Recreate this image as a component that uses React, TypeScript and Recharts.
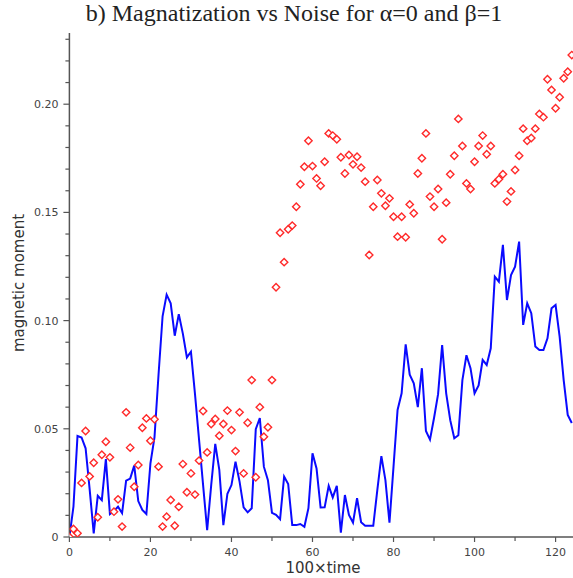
import React from "react";
import { ComposedChart, Line, Scatter, XAxis, YAxis } from "recharts";

const TITLE = "b) Magnatization vs Noise for α=0 and β=1";
const X_LABEL = "100×time";
const Y_LABEL = "magnetic moment";

const X_TICKS = [0, 10, 20, 30, 40, 50, 60, 70, 80, 90, 100, 110, 120];
const X_MAJOR = [0, 20, 40, 60, 80, 100, 120];
const Y_TICKS = [0, 0.01, 0.02, 0.03, 0.04, 0.05, 0.06, 0.07, 0.08, 0.09, 0.1, 0.11, 0.12, 0.13, 0.14, 0.15, 0.16, 0.17, 0.18, 0.19, 0.2, 0.21, 0.22, 0.23];
const Y_MAJOR_LABELS: Record<string, string> = { "0": "0", "0.05": "0.05", "0.1": "0.10", "0.15": "0.15", "0.2": "0.20" };

// blue line: value at each time step 0..124
const blueValues = [
  0, 0.014, 0.0467, 0.046, 0.041, 0.022, 0.0017, 0.019, 0.017, 0.036,
  0.0106, 0.012, 0.014, 0.011, 0.026, 0.027, 0.033, 0.0166, 0.0125, 0.0106,
  0.034, 0.046, 0.075, 0.102, 0.112, 0.108, 0.093, 0.103, 0.094, 0.083,
  0.0856, 0.066, 0.045, 0.024, 0.0032, 0.024, 0.043, 0.031, 0.0055, 0.02,
  0.024, 0.0348, 0.0256, 0.0137, 0.0114, 0.0133, 0.0498, 0.055, 0.0325, 0.0263,
  0.0112, 0.0102, 0.0082, 0.0279, 0.0245, 0.0055, 0.0055, 0.006, 0.0047, 0.0133,
  0.0387, 0.0317, 0.0136, 0.0137, 0.0236, 0.0183, 0.0236, 0.002, 0.0194, 0.0102,
  0.0066, 0.0179, 0.0068, 0.0052, 0.0052, 0.0052, 0.0217, 0.0374, 0.0263, 0.0066,
  0.0325, 0.0587, 0.0664, 0.089, 0.075, 0.071, 0.06, 0.078, 0.049, 0.045,
  0.055, 0.066, 0.0887, 0.0664, 0.054, 0.0456, 0.047, 0.0725, 0.084, 0.078,
  0.0664, 0.07, 0.0818, 0.0795, 0.0872, 0.1203, 0.118, 0.135, 0.1095, 0.121,
  0.1249, 0.1365, 0.098, 0.108, 0.1034, 0.088, 0.0864, 0.0864, 0.0918, 0.1057,
  0.1072, 0.0926, 0.0725, 0.0564, 0.0527,
];

// red diamonds: value at each time step 0..124
const redValues = [
  0, 0.0037, 0.0017, 0.025, 0.049, 0.028, 0.0343, 0.0091, 0.038, 0.044,
  0.0368, 0.0117, 0.0174, 0.0048, 0.0576, 0.0413, 0.0232, 0.0333, 0.0505, 0.0548,
  0.0445, 0.0544, 0.0325, 0.0048, 0.0094, 0.0171, 0.0052, 0.014, 0.0337, 0.0207,
  0.0294, 0.0196, 0.0353, 0.0582, 0.0391, 0.0522, 0.0545, 0.0468, 0.0522, 0.0584,
  0.0494, 0.0397, 0.0576, 0.0294, 0.0528, 0.0725, 0.0276, 0.06, 0.0463, 0.0507,
  0.0725, 0.1154, 0.1406, 0.127, 0.1422, 0.1439, 0.1526, 0.163, 0.1711, 0.1831,
  0.1714, 0.1657, 0.1623, 0.1734, 0.1865, 0.1855, 0.1838, 0.1755, 0.168, 0.1765,
  0.1722, 0.1757, 0.1707, 0.1642, 0.1303, 0.1526, 0.165, 0.1588, 0.1531, 0.1565,
  0.148, 0.1388, 0.148, 0.1385, 0.1537, 0.1496, 0.168, 0.175, 0.1865, 0.1573,
  0.1526, 0.1608, 0.1376, 0.1545, 0.1676, 0.1762, 0.1932, 0.1807, 0.1634, 0.1608,
  0.1734, 0.1807, 0.1855, 0.1769, 0.1807, 0.1634, 0.1653, 0.1676, 0.155, 0.1597,
  0.1696, 0.1762, 0.1887, 0.1831, 0.1844, 0.1887, 0.1955, 0.194, 0.2115, 0.2066,
  0.1981, 0.2032, 0.212, 0.215, 0.2227,
];

const blueData = blueValues.map((v, t) => ({ t, v }));
const redData = redValues.map((v, t) => ({ t, v }));

const AXIS_COLOR = "#555";
const TICK_TEXT = "#444";
const TICK_FONT = "'DejaVu Sans', sans-serif";

const XTick = (props: any) => {
  const { x, y, payload } = props;
  const major = X_MAJOR.includes(payload.value);
  return (
    <g>
      <line x1={x} y1={y} x2={x} y2={y + (major ? 5 : 4)} stroke={AXIS_COLOR} strokeWidth={1.2} />
      {major && (
        <text x={x} y={y + 19} textAnchor="middle" fontSize={11} fontFamily={TICK_FONT} fill={TICK_TEXT}>
          {payload.value}
        </text>
      )}
    </g>
  );
};

const YTick = (props: any) => {
  const { x, y, payload } = props;
  const key = String(Math.round(payload.value * 100) / 100);
  const label = Y_MAJOR_LABELS[key];
  return (
    <g>
      <line x1={x} y1={y} x2={x - (label ? 6 : 4)} y2={y} stroke={AXIS_COLOR} strokeWidth={1.2} />
      {label && (
        <text x={x - 11} y={y + 4} textAnchor="end" fontSize={11} fontFamily={TICK_FONT} fill={TICK_TEXT}>
          {label}
        </text>
      )}
    </g>
  );
};

const Diamond = (props: any) => {
  const { cx, cy } = props;
  if (cx == null || cy == null) return null;
  const r = 3.7;
  return (
    <path
      d={`M${cx},${cy - r}L${cx + r},${cy}L${cx},${cy + r}L${cx - r},${cy}Z`}
      fill="#fff"
      stroke="#ff2a2a"
      strokeWidth={1.4}
    />
  );
};

export default function App() {
  return (
    <div style={{ position: "absolute", left: 0, top: 0, width: 573, height: 578, background: "#fff" }}>
      <ComposedChart width={573} height={578} margin={{ top: 33, right: 0, bottom: 11, left: 0 }}>
        <XAxis
          dataKey="t"
          type="number"
          domain={[0, 124.3]}
          ticks={X_TICKS}
          allowDataOverflow
          height={30}
          tickSize={0}
          tickMargin={0}
          tickLine={false}
          tick={<XTick />}
          axisLine={{ stroke: AXIS_COLOR, strokeWidth: 1.5 }}
          interval={0}
        />
        <YAxis
          dataKey="v"
          type="number"
          domain={[0, 0.2329]}
          ticks={Y_TICKS}
          allowDataOverflow
          width={69.4}
          tickSize={0}
          tickMargin={0}
          tickLine={false}
          tick={<YTick />}
          axisLine={{ stroke: AXIS_COLOR, strokeWidth: 1.5 }}
          interval={0}
        />
        <Scatter data={redData} dataKey="v" shape={<Diamond />} isAnimationActive={false} />
        <Line data={blueData} dataKey="v" type="linear" stroke="#0a0aff" strokeWidth={2} dot={false} isAnimationActive={false} />
      </ComposedChart>
      <div
        style={{
          position: "absolute",
          left: 0,
          width: 588,
          top: -1,
          textAlign: "center",
          fontFamily: "'Liberation Serif', 'Times New Roman', serif",
          fontSize: 24,
          lineHeight: "28px",
          color: "#222",
          whiteSpace: "nowrap",
        }}
      >
        {TITLE}
      </div>
      <div
        style={{
          position: "absolute",
          left: 223,
          width: 200,
          top: 559,
          textAlign: "center",
          fontFamily: TICK_FONT,
          fontSize: 15,
          lineHeight: "18px",
          color: "#333",
          whiteSpace: "nowrap",
        }}
      >
        {X_LABEL}
      </div>
      <div
        style={{
          position: "absolute",
          left: 19 - 100,
          width: 200,
          top: 283 - 9,
          textAlign: "center",
          fontFamily: TICK_FONT,
          fontSize: 15,
          lineHeight: "18px",
          color: "#333",
          whiteSpace: "nowrap",
          transform: "rotate(-90deg)",
        }}
      >
        {Y_LABEL}
      </div>
    </div>
  );
}
